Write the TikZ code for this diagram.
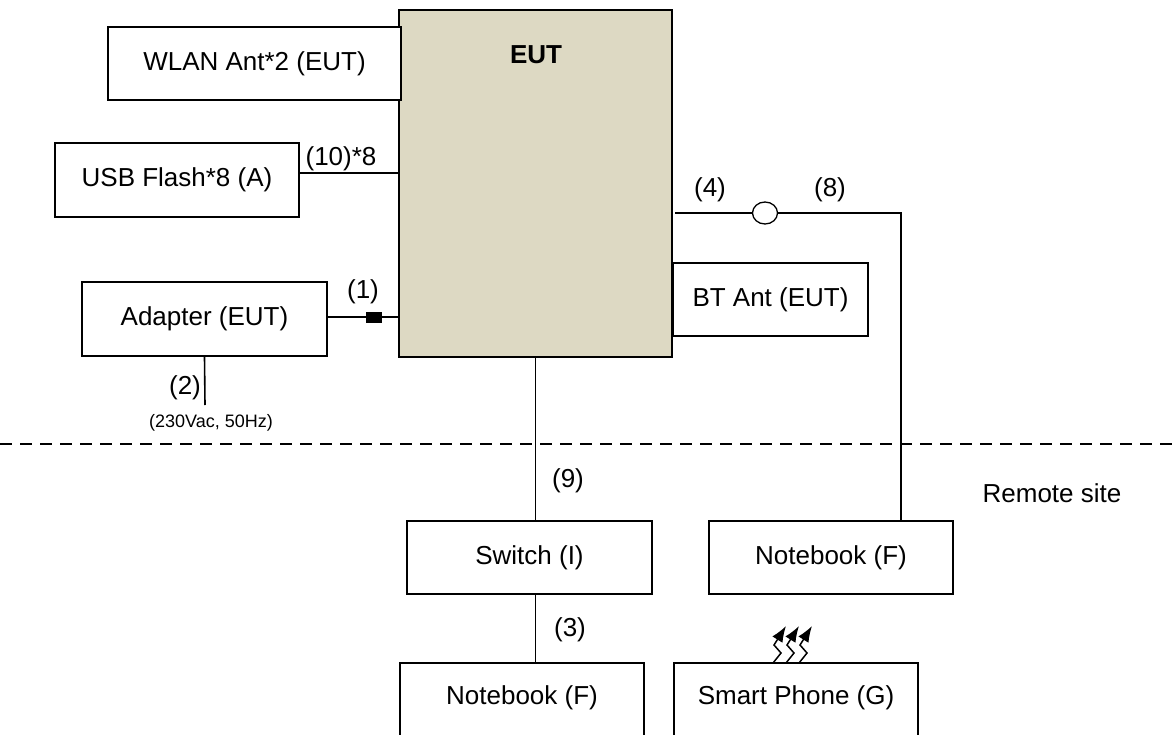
\documentclass[tikz,border=0pt]{standalone}
\usepackage{fontspec}
\setmainfont{Liberation Sans}
\usetikzlibrary{arrows.meta,shapes.geometric}
\definecolor{euttan}{HTML}{DDD9C3}
\begin{document}
\begin{tikzpicture}[x=1pt,y=-1pt,
  every node/.style={font=\fontsize{26}{31}\selectfont, inner sep=0pt},
  box/.style={draw, line width=1.6pt, fill=white, rectangle},
  wire/.style={line width=1.6pt},
  lbl/.style={font=\fontsize{26}{31}\selectfont},
  smalllbl/.style={font=\fontsize{18}{22}\selectfont},
  wave/.style={line width=1.5pt, -{Latex[length=16pt,width=12pt]}}]
\clip (0,0) rectangle (1174,735);
\fill[white] (0,0) rectangle (1174,735);
% EUT
\node[box, fill=euttan, minimum width=273pt, minimum height=347pt] (eut) at (535.5,183.5) {};
\node[font=\fontsize{26}{31}\selectfont\bfseries] (euttxt) at (536,55) {EUT};
% left side boxes
\node[box, minimum width=293pt, minimum height=73pt] (wlan) at (254.5,63.5) {WLAN Ant*2 (EUT)};
\node[box, minimum width=244pt, minimum height=74pt] (usb) at (177,180) {USB Flash*8 (A)};
\node[box, minimum width=245pt, minimum height=74pt] (adapter) at (204.5,319) {Adapter (EUT)};
\node[box, minimum width=195pt, minimum height=73pt] (bt) at (770.5,299.5) {BT Ant (EUT)};
% remote boxes
\node[box, minimum width=245pt, minimum height=73pt] (switch) at (529.5,557.5) {Switch (I)};
\node[box, minimum width=244pt, minimum height=73pt] (nbr) at (831,557.5) {Notebook (F)};
\node[box, minimum width=244pt, minimum height=90pt] (nbb) at (522,708) {};
\node (nbbt) at (522,698) {Notebook (F)};
\node[box, minimum width=244pt, minimum height=90pt] (sp) at (796,708) {};
\node (spt) at (796,698) {Smart Phone (G)};
% USB cable
\coordinate (usbA) at ([yshift=7pt]usb.east);
\draw[wire] (usbA) -- (eut.west |- usbA);
\node[lbl] (l10) at (341,159) {(10)*8};
% adapter DC cable with connector
\coordinate (adA) at ([yshift=2pt]adapter.east);
\draw[wire] (adA) -- (eut.west |- adA);
\node[fill=black, minimum width=16pt, minimum height=11pt] (plug) at (374,317) {};
\node[lbl] (l1) at (363,292) {(1)};
% AC cable
\coordinate (ac) at (205,405);
\draw[wire] (adapter.south) -- (ac);
\node[lbl] (l2) at (185,388) {(2)};
\node[smalllbl] (acl) at (211,423) {(230Vac, 50Hz)};
% boundary
\coordinate (dl) at (0,444);
\coordinate (dr) at (1174,444);
\draw[line width=1.6pt, dash pattern=on 12pt off 8pt] (dl) -- (dr);
\node[lbl] (remote) at (1052,493) {Remote site};
% LAN cable with ferrite
\coordinate (c4) at (675,213);
\coordinate (c8) at (901,213);
\node[draw, ellipse, line width=1.3pt, fill=white, minimum width=25pt, minimum height=22pt] (ferrite) at (765,213) {};
\draw[wire] (c4) -- (ferrite.west);
\draw[wire] (ferrite.east) -- (c8) -- (c8 |- nbr.north);
\node[lbl] (l4) at (710,190) {(4)};
\node[lbl] (l8) at (830,190) {(8)};
% EUT to switch
\draw[wire] (eut.south) -- (eut.south |- switch.north);
\node[lbl] (l9) at (568,481) {(9)};
% switch to notebook
\draw[wire] (eut.south |- switch.south) -- (eut.south |- nbb.north);
\node[lbl] (l3) at (570,630) {(3)};
% wireless symbol
\foreach \x in {773,786,799}{
  \draw[wave] (\x,663) -- (\x+8,653) -- (\x+1,645) -- (\x+13,626);
}
\end{tikzpicture}
\end{document}
